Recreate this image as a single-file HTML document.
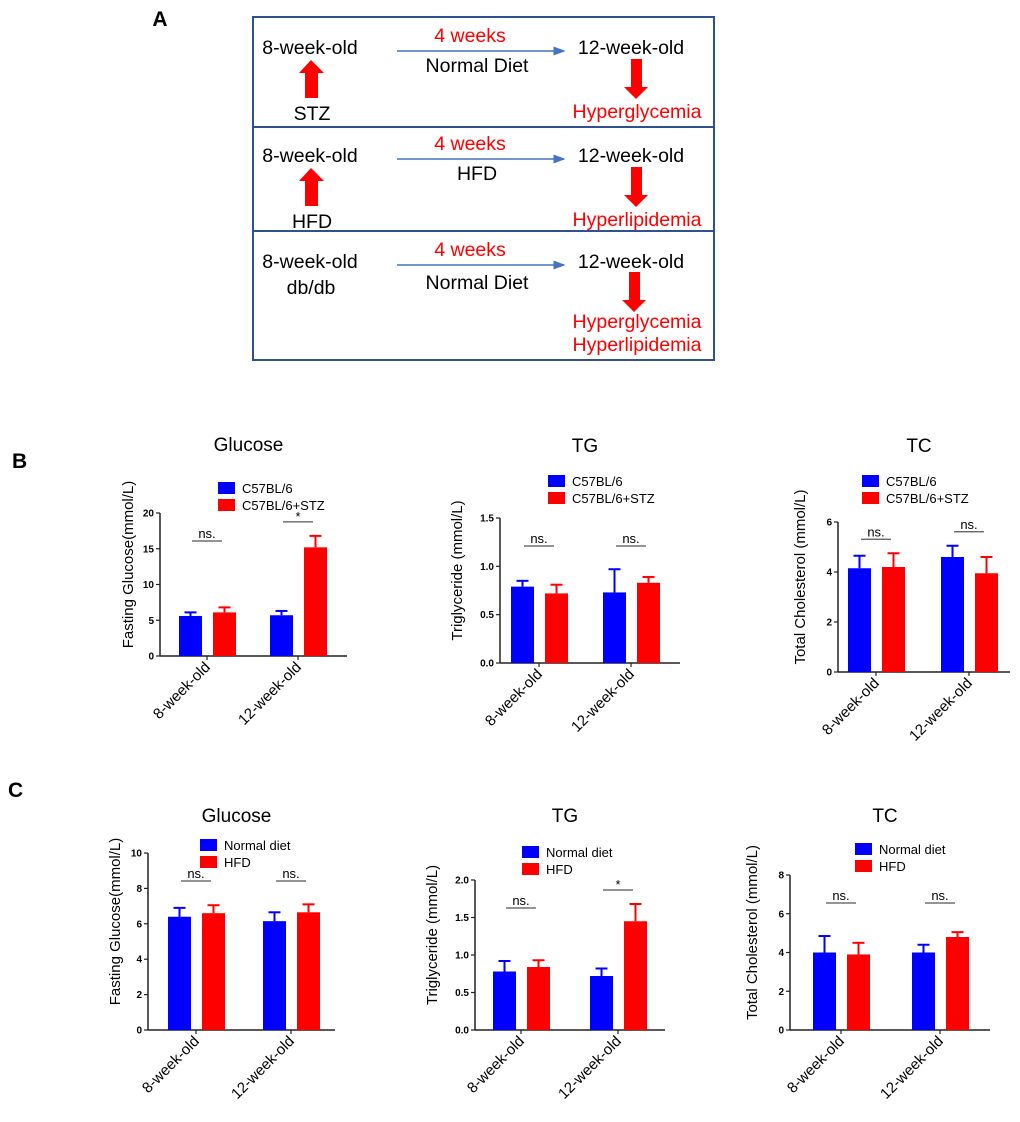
<!DOCTYPE html>
<html><head><meta charset="utf-8"><style>
body{margin:0;background:#fff}
svg{display:block;font-family:"Liberation Sans",Arial,sans-serif}
</style></head><body>
<svg id="fig" width="1020" height="1122" viewBox="0 0 1020 1122">
<g font-size="19.5">
<text x="160" y="26" font-weight="bold" font-size="21" text-anchor="middle">A</text>
<rect x="253" y="17" width="461" height="343" fill="none" stroke="#2f528f" stroke-width="2"/>
<line x1="253" y1="127" x2="714" y2="127" stroke="#2f528f" stroke-width="2"/>
<line x1="253" y1="231" x2="714" y2="231" stroke="#2f528f" stroke-width="2"/>
<defs><marker id="ah" markerWidth="8" markerHeight="8" refX="7" refY="4" orient="auto"><path d="M0,1 L8,4 L0,7z" fill="#4472c4"/></marker></defs>
<g id="rows"></g>
</g>
<text x="12" y="468" font-weight="bold" font-size="21">B</text>
<text x="8" y="797" font-weight="bold" font-size="21">C</text>
<g id="charts"></g>
</svg>
<script>
const NS='http://www.w3.org/2000/svg';
function el(tag,attrs,parent,text){const e=document.createElementNS(NS,tag);for(const k in attrs)e.setAttribute(k,attrs[k]);if(text!==undefined)e.textContent=text;parent.appendChild(e);return e;}
// Panel A rows
const rowsG=document.getElementById('rows');
const rowShift=[0,108,214];
const rowDiet=['Normal Diet','HFD','Normal Diet'];
const rowLeft=['STZ','HFD','db/db'];
const rowOut=[['Hyperglycemia'],['Hyperlipidemia'],['Hyperglycemia','Hyperlipidemia']];
rowShift.forEach((s,i)=>{
  let e;
  e=el('text',{x:310,y:s+54,'text-anchor':'middle'},rowsG,'8-week-old');
  
  e=el('text',{x:631,y:s+54,'text-anchor':'middle'},rowsG,'12-week-old');
  
  e=el('text',{x:470,y:s+42,'text-anchor':'middle',fill:'#ff0000'},rowsG,'4 weeks');
  
  e=el('line',{x1:397,y1:s+51,x2:564,y2:s+51,stroke:'#4472c4','stroke-width':1.5,'marker-end':'url(#ah)'},rowsG);
  
  e=el('text',{x:477,y:s+72+(i==2?3:0),'text-anchor':'middle'},rowsG,rowDiet[i]);
  
  if(i<2){
    e=el('path',{d:`M311,${s+60} L324,${s+73} L318,${s+73} L318,${s+98} L305,${s+98} L305,${s+73} L299,${s+73}z`,fill:'#ff0000'},rowsG);
    
    e=el('text',{x:312,y:s+120,'text-anchor':'middle'},rowsG,rowLeft[i]);
  } else {
    e=el('text',{x:311,y:s+80,'text-anchor':'middle'},rowsG,rowLeft[i]);
  }
  
  const d=(i==2?-1:0), cx=(i==2?634:636);
  e=el('path',{d:`M${cx},${s+d+99} L${cx+12},${s+d+87} L${cx+6},${s+d+87} L${cx+6},${s+d+59} L${cx-5},${s+d+59} L${cx-5},${s+d+87} L${cx-12},${s+d+87}z`,fill:'#ff0000'},rowsG);
  
  rowOut[i].forEach((o,j)=>{
    const ee=el('text',{x:637,y:s+(i==2?114:118)+j*23,'text-anchor':'middle',fill:'#ff0000'},rowsG,o);
    
  });
});

// Chart data
const categories=['8-week-old','12-week-old'];
const bGlucoseMean=[[5.6,5.7],[6.1,15.2]], bGlucoseErr=[[0.5,0.6],[0.7,1.6]];
const bTGMean=[[0.79,0.73],[0.72,0.83]], bTGErr=[[0.06,0.24],[0.09,0.06]];
const bTCMean=[[4.15,4.6],[4.2,3.95]], bTCErr=[[0.5,0.45],[0.55,0.65]];
const cGlucoseMean=[[6.4,6.15],[6.6,6.65]], cGlucoseErr=[[0.5,0.5],[0.45,0.45]];
const cTGMean=[[0.78,0.72],[0.84,1.45]], cTGErr=[[0.14,0.1],[0.09,0.23]];
const cTCMean=[[4.0,4.0],[3.9,4.8]], cTCErr=[[0.85,0.4],[0.6,0.25]];
const ticksGlu20=[0,5,10,15,20], ticksTG15=[0,0.5,1.0,1.5], ticksTC6=[0,2,4,6];
const ticksGlu10=[0,2,4,6,8,10], ticksTG20=[0,0.5,1.0,1.5,2.0], ticksTC8=[0,2,4,6,8];
const legendB=['C57BL/6','C57BL/6+STZ'], legendC=['Normal diet','HFD'];
const sigB=[['ns.','*'],['ns.','ns.'],['ns.','ns.']];
const sigC=[['ns.','ns.'],['ns.','*'],['ns.','ns.']];
const colors=['#0000ff','#ff0000'];

const charts=[
 {name:'b-glucose',title:'Glucose',ylab:'Fasting Glucose(mmol/L)',ax:160,top:513,bot:656,xend:347,ymax:20,ticks:ticksGlu20,dec:0,mean:bGlucoseMean,err:bGlucoseErr,leg:legendB,sig:sigB[0],g0:207,g1:298,legX:218,legY:482,titleY:451,ylabX:133},
 {name:'b-tg',title:'TG',ylab:'Triglyceride (mmol/L)',ax:500,top:518,bot:663,xend:680,ymax:1.5,ticks:ticksTG15,dec:1,mean:bTGMean,err:bTGErr,leg:legendB,sig:sigB[1],g0:539,g1:631,legX:548,legY:475,titleY:452,ylabX:462},
 {name:'b-tc',title:'TC',ylab:'Total Cholesterol (mmol/L)',ax:838,top:522,bot:672,xend:1010,ymax:6,ticks:ticksTC6,dec:0,mean:bTCMean,err:bTCErr,leg:legendB,sig:sigB[2],g0:876,g1:969,legX:862,legY:475,titleY:452,ylabX:805},
 {name:'c-glucose',title:'Glucose',ylab:'Fasting Glucose(mmol/L)',ax:148,top:853,bot:1030,xend:335,ymax:10,ticks:ticksGlu10,dec:0,mean:cGlucoseMean,err:cGlucoseErr,leg:legendC,sig:sigC[0],g0:196,g1:291,legX:200,legY:839,titleY:822,ylabX:120},
 {name:'c-tg',title:'TG',ylab:'Triglyceride (mmol/L)',ax:475,top:880,bot:1030,xend:665,ymax:2.0,ticks:ticksTG20,dec:1,mean:cTGMean,err:cTGErr,leg:legendC,sig:sigC[1],g0:521,g1:618,legX:522,legY:846,titleY:822,ylabX:437},
 {name:'c-tc',title:'TC',ylab:'Total Cholesterol (mmol/L)',ax:790,top:875,bot:1030,xend:990,ymax:8,ticks:ticksTC8,dec:0,mean:cTCMean,err:cTCErr,leg:legendC,sig:sigC[2],g0:841,g1:940,legX:855,legY:843,titleY:822,ylabX:757}
];
const root=document.getElementById('charts');
charts.forEach(c=>{
  const g=el('g',{},root);
  
  
  const y=v=>c.bot-(v/c.ymax)*(c.bot-c.top);
  let e=el('text',{x:(c.ax+c.xend)/2-5,y:c.titleY,'text-anchor':'middle','font-size':19},g,c.title);
  
  const ym=(c.top+c.bot)/2-20;
  e=el('text',{x:c.ylabX,y:ym,'text-anchor':'middle','font-size':15,transform:`rotate(-90 ${c.ylabX} ${ym})`},g,c.ylab);
  
  e=el('line',{x1:c.ax,y1:c.top,x2:c.ax,y2:c.bot,stroke:'#222','stroke-width':1.5},g);
  
  e=el('line',{x1:c.ax,y1:c.bot,x2:c.xend,y2:c.bot,stroke:'#222','stroke-width':1.5},g);
  
  c.ticks.forEach(t=>{
    let k=el('line',{x1:c.ax-4,y1:y(t),x2:c.ax,y2:y(t),stroke:'#222','stroke-width':1.2},g);
    
    k=el('text',{x:c.ax-6,y:y(t)+3.5,'text-anchor':'end','font-size':10,'font-weight':'bold'},g,t.toFixed(c.dec));
    
  });
  const gc=[c.g0,c.g1];
  const bw=23, off=[-28,6];
  categories.forEach((cat,i)=>{
    let k=el('line',{x1:gc[i],y1:c.bot,x2:gc[i],y2:c.bot+4,stroke:'#222','stroke-width':1.2},g);
    
    const lx=gc[i]+4, ly=c.bot+12;
    k=el('text',{x:lx,y:ly,'text-anchor':'end','font-size':15,transform:`rotate(-45 ${lx} ${ly})`},g,cat);
    
    [0,1].forEach(s=>{
      const m=c.mean[s][i], er=c.err[s][i], x0=gc[i]+off[s];
      let b=el('line',{x1:x0+bw/2,y1:y(m),x2:x0+bw/2,y2:y(m+er),stroke:colors[s],'stroke-width':2},g);
      
      b=el('line',{x1:x0+bw/2-6,y1:y(m+er),x2:x0+bw/2+6,y2:y(m+er),stroke:colors[s],'stroke-width':2},g);
      
      b=el('rect',{x:x0,y:y(m),width:bw,height:c.bot-y(m),fill:colors[s]},g);
      
    });
    const top=Math.max(c.mean[0][i]+c.err[0][i],c.mean[1][i]+c.err[1][i]);
    const sy=Math.min(y(top)-14, c.top+(c.sig[i]=='*'?10:28));
    k=el('line',{x1:gc[i]-15,y1:sy,x2:gc[i]+15,y2:sy,stroke:'#555','stroke-width':1.2},g);
    
    k=el('text',{x:gc[i],y:sy-(c.sig[i]=='*'?1:3),'text-anchor':'middle','font-size':13},g,c.sig[i]);
    
  });
  c.leg.forEach((lab,s)=>{
    let k=el('rect',{x:c.legX,y:c.legY+s*17,width:17,height:12,fill:colors[s]},g);
    
    k=el('text',{x:c.legX+24,y:c.legY+s*17+11,'font-size':13},g,lab);
    
  });
});
</script>
</body></html>
